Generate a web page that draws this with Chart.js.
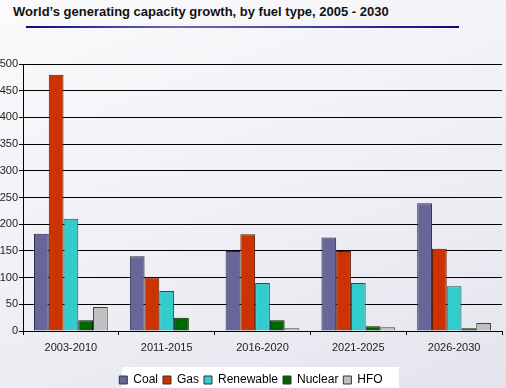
<!DOCTYPE html>
<html>
<head>
<meta charset="utf-8">
<script src="https://cdn.jsdelivr.net/npm/chart.js@4/dist/chart.umd.min.js"></script>
<style>
    html, body {
        margin: 0;
        padding: 0;
    }
    body {
        width: 506px;
        height: 388px;
        overflow: hidden;
        position: relative;
        background: linear-gradient(160deg, #fbfbfd 0%, #f1f1f6 45%, #e4e4ee 100%);
        font-family: "Liberation Sans", Arial, sans-serif;
    }
    #title {
        position: absolute;
        left: 13px;
        top: 4px;
        font-size: 13px;
        font-weight: bold;
        color: #111;
    }
    #rule {
        position: absolute;
        left: 26px;
        top: 26px;
        width: 433px;
        height: 2px;
        background: linear-gradient(90deg, #0a0a80 0%, #6a6ab8 35%, #4a4aa8 60%, #0a0a80 100%);
    }
    #wrap {
        position: absolute;
        left: 0;
        top: 0;
        width: 506px;
        height: 388px;
    }
</style>
</head>
<body>
<div id="title">World’s generating capacity growth, by fuel type, 2005 - 2030</div>
<div id="rule"></div>
<div id="wrap"><canvas id="capacityChart" width="506" height="388"></canvas></div>
<script>
// periods and capacity additions per fuel type
const periods = ['2003-2010', '2011-2015', '2016-2020', '2021-2025', '2026-2030'];
const coal = [182, 140, 150, 175, 239];
const gas = [480, 100, 181, 150, 154];
const renewable = [210, 75, 90, 90, 84];
const nuclear = [20, 25, 20, 9, 5];
const hfo = [45, 0, 5, 7, 15];

const yTicks = [0, 50, 100, 150, 200, 250, 300, 350, 400, 450, 500];

const FONT = 'Liberation Sans';

// white box behind the legend
const legendBackground = {
    id: 'legendBackground',
    beforeDraw(chart) {
        const ctx = chart.ctx;
        ctx.save();
        ctx.fillStyle = '#ffffff';
        ctx.fillRect(122, 367, 277, chart.height - 367);
        ctx.restore();
    }
};

function series(label, data, fill, edge) {
    return {
        label: label,
        data: data,
        backgroundColor: fill,
        borderColor: edge,
        borderWidth: 1,
        borderSkipped: 'bottom'
    };
}

const chart = new Chart(document.getElementById('capacityChart').getContext('2d'), {
    type: 'bar',
    data: {
        labels: periods,
        datasets: [
            series('Coal', coal, '#666699', '#2a2a44'),
            series('Gas', gas, '#cc3300', '#5a1800'),
            series('Renewable', renewable, '#33cccc', '#1d5555'),
            series('Nuclear', nuclear, '#006600', '#002200'),
            series('HFO', hfo, '#c0c0c0', '#444444')
        ]
    },
    options: {
        responsive: false,
        animation: false,
        devicePixelRatio: 1,
        layout: {
            // negative bottom pushes the legend down against the canvas edge
            padding: { top: 64, right: 4, left: 0, bottom: -8 }
        },
        datasets: {
            bar: {
                categoryPercentage: 0.77,
                barPercentage: 1.0
            }
        },
        scales: {
            x: {
                grid: {
                    display: true,
                    drawOnChartArea: false,
                    drawTicks: true,
                    tickLength: 4,
                    color: '#000000'
                },
                border: { display: true, color: '#000000', width: 1 },
                ticks: {
                    color: '#222222',
                    font: { family: FONT, size: 11 },
                    padding: 6,
                    maxRotation: 0
                },
                afterFit(scale) { scale.height = 38; }
            },
            y: {
                min: 0,
                max: 500,
                afterBuildTicks(scale) {
                    scale.ticks = yTicks.map(v => ({ value: v }));
                },
                grid: {
                    color: '#000000',
                    lineWidth: 1,
                    drawTicks: true,
                    tickLength: 4
                },
                border: { display: true, color: '#000000', width: 1 },
                ticks: {
                    color: '#222222',
                    font: { family: FONT, size: 11 },
                    padding: 1
                },
                afterFit(scale) { scale.width = 23; }
            }
        },
        plugins: {
            legend: {
                position: 'bottom',
                labels: {
                    boxWidth: 8,
                    boxHeight: 8,
                    padding: 5,
                    color: '#111111',
                    font: { family: FONT, size: 12 },
                    generateLabels(chart) {
                        return chart.data.datasets.map((ds, i) => ({
                            text: ds.label,
                            fillStyle: ds.backgroundColor,
                            strokeStyle: '#333333',
                            lineWidth: 1,
                            datasetIndex: i
                        }));
                    }
                }
            },
            tooltip: { enabled: false }
        }
    },
    plugins: [legendBackground]
});
</script>
</body>
</html>
